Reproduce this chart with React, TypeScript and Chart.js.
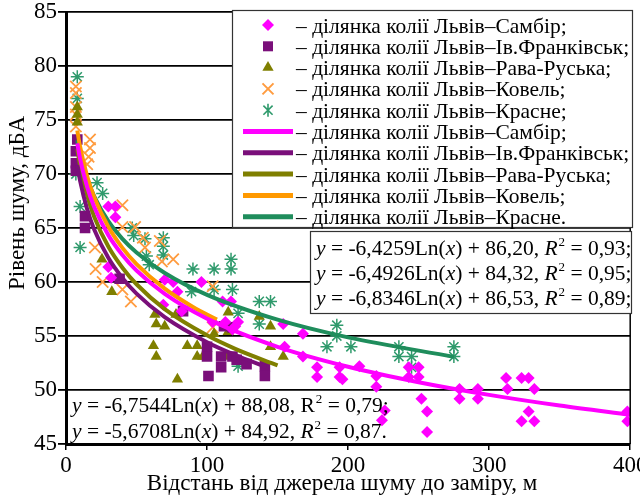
import React, { useEffect, useRef } from 'react';
import { Chart, registerables } from 'chart.js';

Chart.register(...registerables);

const SERIF = '"Liberation Serif", "Times New Roman", serif';

// ---------- axes ----------
const xMin = 0;
const xMax = 400;
const xStep = 100;
const yMin = 45;
const yMax = 85;
const yStep = 5;
const xTitle = 'Відстань від джерела шуму до заміру, м';
const yTitle = 'Рівень шуму, дБА';

// ---------- measured points ----------
const sambirX = [30, 35, 35, 30, 32, 70, 76, 96, 79, 82, 69, 104, 111, 113, 117, 118, 120, 122, 154, 155, 168, 168, 178, 178, 194, 194, 196, 208, 220, 220, 224, 226, 243, 250, 243, 250, 252, 256, 256, 279, 279, 292, 292, 312, 313, 323, 328, 332, 328, 323, 332, 398, 398];
const sambirY = [67, 67, 66, 61.4, 60.4, 60.2, 60, 60, 59.1, 57.3, 57.9, 56.3, 58.2, 56.3, 58.2, 55.6, 55.9, 56.3, 56.1, 54, 55.2, 53.1, 52.1, 51.2, 52.1, 51.2, 51, 52.2, 51.3, 50.3, 47.2, 48.1, 52.1, 52.1, 51.2, 51.2, 49.2, 48, 46.1, 50.1, 49.2, 50.1, 49.2, 51.1, 50.1, 51.1, 51.1, 50.1, 48, 47.1, 47.1, 48, 47.1];

const frankX = [8, 7, 7, 7, 13.5, 13.5, 38, 83, 100, 100, 101, 110, 110, 112, 118, 118, 121, 128, 141, 141];
const frankY = [73.2, 72.1, 71, 70.3, 66.1, 65, 60.3, 57.3, 54, 53.1, 51.3, 53.1, 52.1, 55.9, 55.8, 53.1, 52.8, 52.4, 52.2, 51.3];

const ravaX = [8, 8, 8, 7, 25.5, 32.5, 63, 64, 70, 62, 64, 78, 79, 86, 93, 93, 97, 105, 115, 115, 114, 137, 145, 145, 154];
const ravaY = [76.2, 75.5, 74.8, 70.2, 62.1, 59.1, 57, 56.1, 55.9, 54.1, 53.1, 57, 51, 54.1, 54.1, 53.1, 53.1, 55.2, 57.2, 55.4, 53.1, 56.8, 55.9, 54, 53.1];

const kovelX = [7, 7, 7, 7, 7, 17, 17, 16, 15, 40, 40, 49, 54.5, 20.5, 21, 26, 40, 46, 56, 66.5, 68, 76, 104, 104];
const kovelY = [78.1, 77.5, 76.2, 75.5, 74.4, 73.2, 72.4, 71.6, 70.9, 67.1, 65.1, 65.1, 64.1, 63.2, 61.2, 60, 59.3, 58.2, 63.2, 63.8, 61.9, 62.1, 59.6, 55.8];

const krasneX = [8, 8, 7, 10, 10, 22, 26, 47, 48, 56, 57, 59, 69, 69, 69, 90, 89, 105, 117, 117, 118, 105, 122, 137, 145, 137, 122, 185, 192, 192, 202, 236, 236, 245, 245, 275, 275];
const krasneY = [79, 77, 70, 67, 63.2, 69.2, 68.2, 65, 64.3, 64, 62.4, 61.6, 64.1, 63.3, 62.5, 61.2, 59.1, 61.2, 62.1, 61.2, 59.3, 59.3, 57.1, 58.2, 58.2, 56.1, 52.2, 54, 56, 55, 54, 54, 53.1, 53.1, 52.1, 54, 53.1];

// ---------- trend lines ----------
const sambirTrendX = [8, 10, 15, 20, 30, 40, 50, 70, 100, 150, 200, 250, 300, 350, 400];
const sambirTrendY = [72.84, 71.4, 68.8, 66.95, 64.34, 62.5, 61.06, 58.9, 56.61, 54.0, 52.15, 50.72, 49.55, 48.56, 47.7];
const frankTrendX = [8, 10, 15, 20, 30, 40, 50, 70, 100, 120, 142];
const frankTrendY = [70.82, 69.37, 66.74, 64.87, 62.24, 60.37, 58.92, 56.74, 54.42, 53.24, 52.14];
const ravaTrendX = [8, 10, 15, 20, 30, 40, 50, 70, 100, 120, 150];
const ravaTrendY = [72.32, 70.79, 68.02, 66.05, 63.28, 61.32, 59.79, 57.49, 55.06, 53.81, 52.28];
const kovelTrendX = [8, 10, 15, 20, 30, 40, 50, 70, 90, 107];
const kovelTrendY = [74.03, 72.53, 69.79, 67.85, 65.11, 63.16, 61.66, 59.38, 57.69, 56.52];
const krasneTrendX = [8, 10, 15, 20, 30, 40, 50, 70, 100, 150, 200, 275];
const krasneTrendY = [73.13, 71.86, 69.56, 67.93, 65.63, 64.0, 62.74, 60.83, 58.81, 56.51, 54.87, 53.07];

// ---------- legend ----------
const legendLabels = [
  'ділянка колії Львів–Самбір;',
  'ділянка колії Львів–Ів.Франківськ;',
  'ділянка колії Львів–Рава-Руська;',
  'ділянка колії Львів–Ковель;',
  'ділянка колії Львів–Красне;',
  'ділянка колії Львів–Самбір;',
  'ділянка колії Львів–Ів.Франківськ;',
  'ділянка колії Львів–Рава-Руська;',
  'ділянка колії Львів–Ковель;',
  'ділянка колії Львів–Красне.',
];

// ---------- equations: [text, style] n=normal i=italic s=superscript ----------
type Seg = [string, string];
const eqBoxRight: Seg[][] = [
  [['y', 'i'], [' = -6,4259Ln(', 'n'], ['x', 'i'], [') + 86,20, ', 'n'], ['R', 'i'], ['2', 's'], [' = 0,93;', 'n']],
  [['y', 'i'], [' = -6,4926Ln(', 'n'], ['x', 'i'], [') + 84,32, ', 'n'], ['R', 'i'], ['2', 's'], [' = 0,95;', 'n']],
  [['y', 'i'], [' = -6,8346Ln(', 'n'], ['x', 'i'], [') + 86,53, ', 'n'], ['R', 'i'], ['2', 's'], [' = 0,89;', 'n']],
];
const eqBoxLeft: Seg[][] = [
  [['y', 'i'], [' = -6,7544Ln(', 'n'], ['x', 'i'], [') + 88,08, R', 'n'], ['2', 's'], [' = 0,79;', 'n']],
  [['y', 'i'], [' = -5,6708Ln(', 'n'], ['x', 'i'], [') + 84,92, ', 'n'], ['R', 'i'], ['2', 's'], [' = 0,87.', 'n']],
];

const C_PINK = '#ff00ff';
const C_PURPLE = '#7a0f7a';
const C_OLIVE = '#7f7f00';
const C_ORANGE_PT = '#ff9c40';
const C_ORANGE_LN = '#ff9900';
const C_GREEN_PT = '#2f9a6c';
const C_GREEN_LN = '#1f8d5c';

const zip = (xs: number[], ys: number[]) => xs.map((x, i) => ({ x, y: ys[i] }));

function drawMarker(ctx: CanvasRenderingContext2D, style: string, x: number, y: number, color: string) {
  ctx.save();
  ctx.fillStyle = color;
  ctx.strokeStyle = color;
  ctx.beginPath();
  if (style === 'rectRot') {
    const r = 6;
    ctx.moveTo(x, y - r); ctx.lineTo(x + r, y); ctx.lineTo(x, y + r); ctx.lineTo(x - r, y); ctx.closePath(); ctx.fill();
  } else if (style === 'rect') {
    ctx.fillRect(x - 5, y - 5, 10, 10);
  } else if (style === 'triangle') {
    const r = 6.5;
    ctx.moveTo(x, y - r); ctx.lineTo(x + r * 0.866, y + r * 0.5); ctx.lineTo(x - r * 0.866, y + r * 0.5); ctx.closePath(); ctx.fill();
  } else if (style === 'crossRot') {
    const d = 5.5; ctx.lineWidth = 2;
    ctx.moveTo(x - d, y - d); ctx.lineTo(x + d, y + d); ctx.moveTo(x + d, y - d); ctx.lineTo(x - d, y + d); ctx.stroke();
  } else if (style === 'star') {
    const r = 6.5; const d = r * 0.707; ctx.lineWidth = 1.6;
    ctx.moveTo(x, y - r); ctx.lineTo(x, y + r);
    ctx.moveTo(x - d, y - d); ctx.lineTo(x + d, y + d); ctx.moveTo(x + d, y - d); ctx.lineTo(x - d, y + d);
    ctx.stroke();
  }
  ctx.restore();
}

function drawRich(ctx: CanvasRenderingContext2D, segs: Seg[], x: number, baseline: number, size: number) {
  let cx = x;
  ctx.textAlign = 'left';
  ctx.textBaseline = 'alphabetic';
  ctx.fillStyle = '#000';
  for (const [t, st] of segs) {
    if (st === 's') {
      ctx.font = `${Math.round(size * 0.6)}px ${SERIF}`;
      ctx.fillText(t, cx + 1, baseline - size * 0.42);
      cx += ctx.measureText(t).width + 1;
    } else {
      ctx.font = `${st === 'i' ? 'italic ' : ''}${size}px ${SERIF}`;
      ctx.fillText(t, cx, baseline);
      cx += ctx.measureText(t).width;
    }
  }
}

const overlayPlugin = {
  id: 'overlay',
  afterDraw(chart: any) {
    const ctx: CanvasRenderingContext2D = chart.ctx;
    const ca = chart.chartArea;
    ctx.save();
    // right frame line
    ctx.strokeStyle = '#000';
    ctx.lineWidth = 1.5;
    ctx.beginPath();
    ctx.moveTo(ca.right, ca.top);
    ctx.lineTo(ca.right, ca.bottom);
    ctx.stroke();

    // legend box
    ctx.fillStyle = '#fff';
    ctx.fillRect(232, 10, 401, 218);
    ctx.strokeStyle = '#333';
    ctx.lineWidth = 1.2;
    ctx.strokeRect(232.5, 10.5, 400, 217);
    const ds = chart.data.datasets;
    for (let i = 0; i < 10; i++) {
      const cy = 25 + i * 21.3;
      const d = ds[i];
      if (i < 5) {
        drawMarker(ctx, d.pointStyle, 268, cy, d.borderColor);
      } else {
        ctx.strokeStyle = d.borderColor;
        ctx.lineWidth = 5;
        ctx.beginPath();
        ctx.moveTo(243, cy);
        ctx.lineTo(293, cy);
        ctx.stroke();
      }
      ctx.fillStyle = '#000';
      ctx.font = `21.5px ${SERIF}`;
      ctx.textAlign = 'left';
      ctx.textBaseline = 'alphabetic';
      ctx.fillText('– ' + d.label, 296, cy + 7.5);
    }

    // right equation box
    ctx.fillStyle = '#fff';
    ctx.fillRect(310, 231, 322, 83);
    ctx.strokeStyle = '#333';
    ctx.lineWidth = 1.2;
    ctx.strokeRect(310.5, 231.5, 321, 82);
    eqBoxRight.forEach((segs, i) => drawRich(ctx, segs, 316, 255 + i * 25, 21.5));

    // left-bottom equations
    eqBoxLeft.forEach((segs, i) => drawRich(ctx, segs, 72, 412 + i * 26, 21.5));

    // axis titles
    ctx.fillStyle = '#000';
    ctx.font = `23px ${SERIF}`;
    ctx.textAlign = 'center';
    ctx.textBaseline = 'alphabetic';
    ctx.fillText(xTitle, 342, 490);
    ctx.save();
    ctx.translate(24, 203);
    ctx.rotate(-Math.PI / 2);
    ctx.fillText(yTitle, 0, 0);
    ctx.restore();
    ctx.restore();
  },
};

export default function App() {
  const ref = useRef<HTMLCanvasElement | null>(null);
  useEffect(() => {
    if (!ref.current) return;
    const scatter = (label: string, xs: number[], ys: number[], style: string, color: string, r: number, bw: number) => ({
      type: 'scatter' as const,
      label,
      data: zip(xs, ys),
      pointStyle: style,
      pointRadius: r,
      pointHoverRadius: r,
      backgroundColor: color,
      borderColor: color,
      borderWidth: bw,
      showLine: false,
      order: 2,
    });
    const trend = (label: string, xs: number[], ys: number[], color: string) => ({
      type: 'scatter' as const,
      label,
      data: zip(xs, ys),
      showLine: true,
      borderColor: color,
      backgroundColor: color,
      borderWidth: 4,
      pointRadius: 0,
      pointHoverRadius: 0,
      cubicInterpolationMode: 'monotone' as const,
      fill: false,
      order: 1,
    });
    const chart = new Chart(ref.current, {
      type: 'scatter',
      data: {
        datasets: [
          scatter(legendLabels[0], sambirX, sambirY, 'rectRot', C_PINK, 6, 0),
          scatter(legendLabels[1], frankX, frankY, 'rect', C_PURPLE, 7.5, 0),
          scatter(legendLabels[2], ravaX, ravaY, 'triangle', C_OLIVE, 6.5, 0),
          scatter(legendLabels[3], kovelX, kovelY, 'crossRot', C_ORANGE_PT, 8, 1.8),
          scatter(legendLabels[4], krasneX, krasneY, 'star', C_GREEN_PT, 6.5, 1.5),
          trend(legendLabels[5], sambirTrendX, sambirTrendY, C_PINK),
          trend(legendLabels[6], frankTrendX, frankTrendY, C_PURPLE),
          trend(legendLabels[7], ravaTrendX, ravaTrendY, C_OLIVE),
          trend(legendLabels[8], kovelTrendX, kovelTrendY, C_ORANGE_LN),
          trend(legendLabels[9], krasneTrendX, krasneTrendY, C_GREEN_LN),
        ] as any,
      },
      options: {
        responsive: false,
        animation: false,
        layout: { padding: { top: 12, right: 9, bottom: 0, left: 0 } },
        plugins: { legend: { display: false }, tooltip: { enabled: false } },
        scales: {
          x: {
            type: 'linear',
            min: xMin,
            max: xMax,
            ticks: { stepSize: xStep, color: '#000', font: { family: SERIF, size: 23 }, padding: 2, maxRotation: 0 },
            grid: { display: true, drawOnChartArea: false, drawTicks: true, tickLength: 6, color: '#000', lineWidth: 1.5 },
            border: { display: true, color: '#000', width: 3 },
            title: { display: false },
            afterFit: (s: any) => { s.height = 51; s.paddingLeft = 0; s.paddingRight = 0; },
          },
          y: {
            type: 'linear',
            min: yMin,
            max: yMax,
            ticks: { stepSize: yStep, color: '#000', font: { family: SERIF, size: 23 }, padding: 1 },
            grid: { color: '#000', lineWidth: 1.8, tickLength: 8 },
            border: { display: true, color: '#000', width: 3 },
            title: { display: false },
            afterFit: (s: any) => { s.width = 66; s.paddingTop = 0; s.paddingBottom = 0; },
          },
        },
      },
      plugins: [overlayPlugin],
    } as any);
    return () => chart.destroy();
  }, []);
  return (
    <div style={{ position: 'absolute', left: 0, top: 0, width: 640, height: 495, background: '#fff' }}>
      <canvas ref={ref} width={640} height={495} style={{ width: 640, height: 495, display: 'block' }} />
    </div>
  );
}
